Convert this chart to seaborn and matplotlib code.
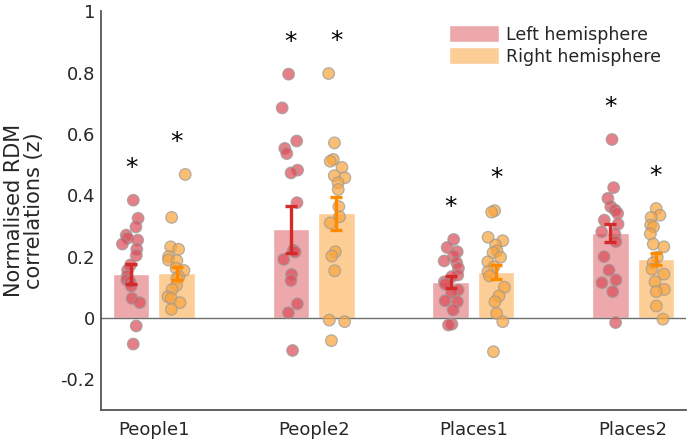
import numpy as np
import pandas as pd
import matplotlib
matplotlib.use("Agg")
import matplotlib.pyplot as plt
import seaborn as sns

categories = ["People1", "People2", "Places1", "Places2"]
hemispheres = ["Left hemisphere", "Right hemisphere"]

left_means = [0.143, 0.289, 0.117, 0.278]
left_sems = [0.033, 0.076, 0.019, 0.029]
right_means = [0.146, 0.341, 0.151, 0.192]
right_sems = [0.021, 0.053, 0.023, 0.020]

left_people1 = [0.384, 0.325, 0.297, 0.270, 0.260, 0.254, 0.241, 0.224, 0.204, 0.173,
                0.156, 0.137, 0.124, 0.118, 0.104, 0.064, 0.050, -0.026, -0.085]
left_people2 = [0.795, 0.685, 0.577, 0.553, 0.536, 0.482, 0.473, 0.376, 0.221, 0.215,
                0.191, 0.142, 0.122, 0.046, 0.017, -0.106]
left_places1 = [0.256, 0.230, 0.216, 0.202, 0.186, 0.180, 0.162, 0.140, 0.135, 0.118,
                0.110, 0.091, 0.082, 0.056, 0.053, 0.026, -0.020, -0.023]
left_places2 = [0.582, 0.425, 0.390, 0.363, 0.352, 0.341, 0.319, 0.306, 0.281, 0.274,
                0.249, 0.200, 0.156, 0.124, 0.115, 0.086, -0.015]

right_people1 = [0.468, 0.328, 0.232, 0.224, 0.200, 0.189, 0.187, 0.162, 0.155, 0.135,
                 0.129, 0.107, 0.093, 0.069, 0.064, 0.050, 0.028]
right_people2 = [0.797, 0.571, 0.517, 0.511, 0.491, 0.464, 0.457, 0.441, 0.419, 0.363,
                 0.330, 0.310, 0.216, 0.202, 0.154, -0.007, -0.012, -0.074]
right_places1 = [0.350, 0.345, 0.263, 0.252, 0.238, 0.219, 0.213, 0.198, 0.183, 0.167,
                 0.151, 0.137, 0.100, 0.072, 0.053, 0.015, -0.012, -0.110]
right_places2 = [0.357, 0.335, 0.328, 0.303, 0.297, 0.274, 0.241, 0.232, 0.198, 0.180,
                 0.159, 0.143, 0.118, 0.093, 0.086, 0.039, -0.004]

left_points = [left_people1, left_people2, left_places1, left_places2]
right_points = [right_people1, right_people2, right_places1, right_places2]

bar_colors = ["#eca8ab", "#fdcd96"]
point_colors = ["#dc4f5a", "#f9a63e"]
err_colors = ["#d42a2a", "#ff8a00"]

# ---- tables ----
bar_rows = []
for i, c in enumerate(categories):
    bar_rows.append({"cat": c, "hemi": hemispheres[0], "mean": left_means[i], "sem": left_sems[i]})
    bar_rows.append({"cat": c, "hemi": hemispheres[1], "mean": right_means[i], "sem": right_sems[i]})
bar_df = pd.DataFrame(bar_rows)

width = 0.57
offset = width / 4
rng = np.random.default_rng(7)
pt_rows = []
for i, c in enumerate(categories):
    for h, pts in enumerate([left_points[i], right_points[i]]):
        sign = -1 if h == 0 else 1
        for v in pts:
            pt_rows.append({"x": i + sign * offset + rng.uniform(-0.055, 0.055),
                            "y": v, "hemi": hemispheres[h]})
pt_df = pd.DataFrame(pt_rows)

sns.set_theme(style="white")
plt.rcParams["font.family"] = ["DejaVu Sans"]

fig = plt.figure(figsize=(6.88, 4.44), dpi=100)
ax = fig.add_axes([0.147, 0.0766, 0.85, 0.898])

sns.barplot(data=bar_df, x="cat", y="mean", hue="hemi", order=categories,
            hue_order=hemispheres, palette=bar_colors, width=width, gap=0.2,
            errorbar=None, saturation=1, ax=ax, zorder=1)

ax.axhline(0, color="#6e6e6e", lw=1.0, zorder=1.5)

sns.scatterplot(data=pt_df, x="x", y="y", hue="hemi", hue_order=hemispheres,
                palette=point_colors, s=70, alpha=0.72, edgecolor="#9a9a9a",
                linewidth=0.9, legend=False, ax=ax, zorder=3)

for h, (means, sems) in enumerate([(left_means, left_sems), (right_means, right_sems)]):
    sign = -1 if h == 0 else 1
    xs = np.arange(len(categories)) + sign * offset
    ax.errorbar(xs, means, yerr=sems, fmt="none", ecolor=err_colors[h],
                elinewidth=2.4, capsize=4, capthick=2.4, zorder=4)
    pts_all = left_points if h == 0 else right_points
    for i, pts in enumerate(pts_all):
        ax.text(xs[i], max(pts) + 0.105, "*", ha="center", va="center",
                fontsize=18, color="black", zorder=5)

ax.set_xlim(-0.33, 3.33)
ax.set_ylim(-0.3, 1.0)
ax.set_yticks([-0.2, 0, 0.2, 0.4, 0.6, 0.8, 1])
ax.set_yticklabels(["-0.2", "0", "0.2", "0.4", "0.6", "0.8", "1"])
ax.tick_params(axis="both", length=0, labelsize=13, colors="#262626")
ax.tick_params(axis="x", pad=8)
ax.tick_params(axis="y", pad=4)
ax.set_xlabel("")
ax.set_ylabel("Normalised RDM\ncorrelations (z)", fontsize=15, color="#262626",
              linespacing=1.0, labelpad=12)

for s in ["top", "right"]:
    ax.spines[s].set_visible(False)
for s in ["left", "bottom"]:
    ax.spines[s].set_color("#555555")
    ax.spines[s].set_linewidth(1.3)

handles, labels = ax.get_legend_handles_labels()
ax.legend(handles[:2], labels[:2], loc="upper left", frameon=False,
          fontsize=12.5, handlelength=2.9, handleheight=1.15, labelspacing=0.2,
          handletextpad=0.35, borderpad=0, borderaxespad=0,
          bbox_to_anchor=(0.595, 0.965))

fig.savefig("out.png", dpi=100)
